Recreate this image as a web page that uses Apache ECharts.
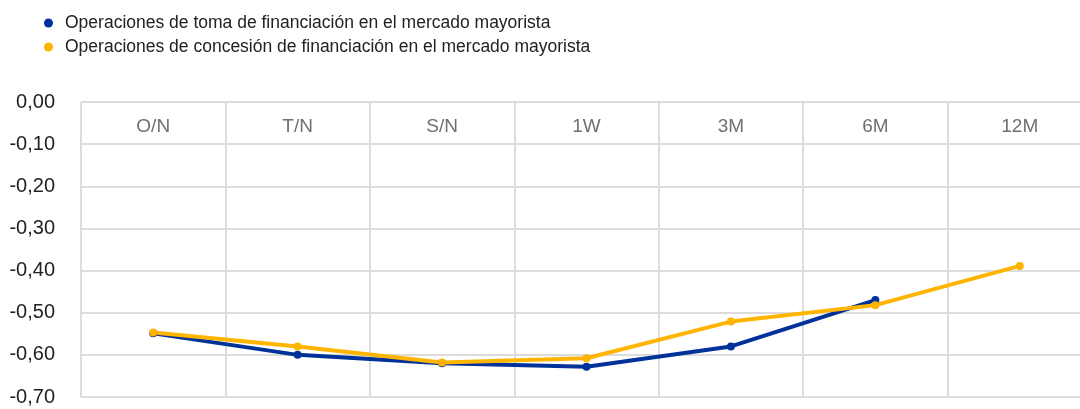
<!DOCTYPE html>
<html>
<head>
<meta charset="utf-8">
<script src="https://cdn.jsdelivr.net/npm/echarts@6/dist/echarts.min.js"></script>
<style>
  html, body { margin: 0; padding: 0; background: #fff; }
  #chart { width: 1080px; height: 409px; }
</style>
</head>
<body>
<div id="chart"></div>
<script>
// plazos del mercado mayorista
var categories = ['O/N', 'T/N', 'S/N', '1W', '3M', '6M', '12M'];

// tipos medios (%)
var tomaValues = [-0.549, -0.600, -0.620, -0.628, -0.580, -0.470, null];
var concesionValues = [-0.547, -0.580, -0.618, -0.608, -0.521, -0.482, -0.389];

var seriesNames = [
  'Operaciones de toma de financiación en el mercado mayorista',
  'Operaciones de concesión de financiación en el mercado mayorista'
];

var chart = echarts.init(document.getElementById('chart'));

var option = {
  animation: false,
  textStyle: { fontFamily: "'Liberation Sans', Arial, sans-serif" },
  legend: {
    orient: 'vertical',
    left: 39,
    top: 9,
    itemWidth: 9,
    itemHeight: 9,
    itemGap: 6,
    icon: 'circle',
    textStyle: { fontSize: 17.5, color: '#222', padding: [0, 0, 0, 7] },
    data: seriesNames
  },
  grid: {
    left: 81,
    top: 102,
    width: 1011,
    bottom: 12,
    outerBoundsMode: 'none',
    containLabel: false
  },
  xAxis: {
    type: 'category',
    position: 'top',
    data: categories,
    boundaryGap: true,
    axisLine: { show: false },
    axisTick: { show: false },
    axisLabel: {
      inside: true,
      margin: 15,
      fontSize: 19,
      color: '#707070'
    },
    splitLine: { show: true, lineStyle: { color: '#dcdcdc', width: 2 } }
  },
  yAxis: {
    type: 'value',
    min: -0.7,
    max: 0,
    interval: 0.1,
    axisLine: { show: false },
    axisTick: { show: false },
    axisLabel: {
      margin: 26,
      fontSize: 20,
      color: '#222',
      formatter: function (v) { return v.toFixed(2).replace('.', ','); }
    },
    splitLine: { lineStyle: { color: '#dcdcdc', width: 2 } }
  },
  series: [
    {
      name: seriesNames[0],
      type: 'line',
      data: tomaValues,
      symbol: 'circle',
      symbolSize: 8,
      lineStyle: { width: 4, color: '#003299' },
      itemStyle: { color: '#003299' }
    },
    {
      name: seriesNames[1],
      type: 'line',
      data: concesionValues,
      symbol: 'circle',
      symbolSize: 8,
      lineStyle: { width: 4, color: '#ffb400' },
      itemStyle: { color: '#ffb400' }
    }
  ]
};

chart.setOption(option);
</script>
</body>
</html>
